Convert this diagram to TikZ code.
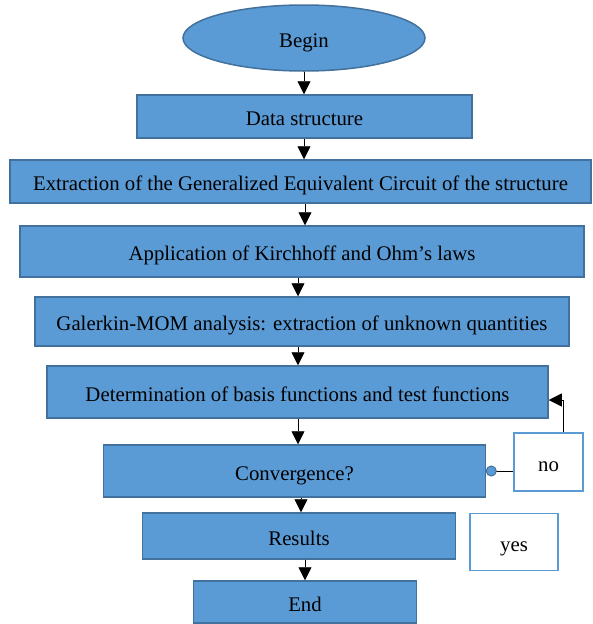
\documentclass[tikz,border=0pt]{standalone}
\usepackage{fontspec}
\setmainfont{Liberation Serif}
\usetikzlibrary{arrows.meta,shapes.geometric}
\definecolor{boxblue}{HTML}{5B9BD5}
\definecolor{boxedge}{HTML}{41719C}
\begin{document}
\begin{tikzpicture}[x=1pt,y=-1pt,
  every node/.style={font=\fontsize{20.8}{23}\selectfont, inner sep=0pt, text height=18pt, text depth=0pt},
  stepbox/.style={rectangle, draw=boxedge, fill=boxblue, line width=1.5pt},
  termbox/.style={ellipse, draw=boxedge, fill=boxblue, line width=1.5pt},
  labbox/.style={rectangle, draw=boxblue, fill=white, line width=1.5pt},
  flow/.style={line width=0.8pt, -{Triangle[width=13pt,length=13pt]}}]
\useasboundingbox (0,0) rectangle (592,624);
\node[termbox, minimum width=242, minimum height=66] (begin) at (304,38) {Begin};
\node[stepbox, minimum width=335, minimum height=43] (data) at (304.5,116.5) {Data structure};
\node[stepbox, minimum width=581, minimum height=43] (gec) at (300.5,181.5) {Extraction of the Generalized Equivalent Circuit of the structure};
\node[stepbox, minimum width=564, minimum height=51] (kirch) at (302,251.5) {Application of Kirchhoff and Ohm’s laws};
\node[stepbox, minimum width=534, minimum height=49] (gal) at (302,321.5) {Galerkin-MOM analysis: extraction of unknown quantities};
\node[stepbox, minimum width=501, minimum height=52] (det) at (297.5,392) {Determination of basis functions and test functions};
\node[stepbox, minimum width=382, minimum height=52] (conv) at (294.5,471) {Convergence?};
\node[stepbox, minimum width=313, minimum height=46] (res) at (299,536) {Results};
\node[stepbox, minimum width=223, minimum height=42] (end) at (305,602) {End};
\node[labbox, minimum width=69, minimum height=58] (no) at (548.5,462) {no};
\node[labbox, minimum width=88, minimum height=57] (yes) at (514,542) {yes};
\coordinate (loopx) at (563,400);
\draw[flow] (begin.south -| 304,0) -- (data.north -| 304,0);
\draw[flow] (data.south -| 304,0) -- (gec.north -| 304,0);
\draw[flow] (gec.south -| 305,0) -- (kirch.north -| 305,0);
\draw[flow] (kirch.south -| 298,0) -- (gal.north -| 298,0);
\draw[flow] (gal.south -| 298,0) -- (det.north -| 298,0);
\draw[flow] (det.south -| 298,0) -- (conv.north -| 298,0);
\draw[flow] (conv.south -| 301,0) -- (res.north -| 301,0);
\draw[flow] (res.south -| 305,0) -- (end.north -| 305,0);
\draw[line width=0.8pt] (conv.east) ++(5,0) coordinate (dot) -- (dot -| no.west);
\filldraw[fill=boxblue, draw=boxedge, line width=1pt] (dot) circle[radius=5];
\draw[flow] (no.north -| loopx) -- (loopx) -- (loopx -| det.east);
\end{tikzpicture}
\end{document}
